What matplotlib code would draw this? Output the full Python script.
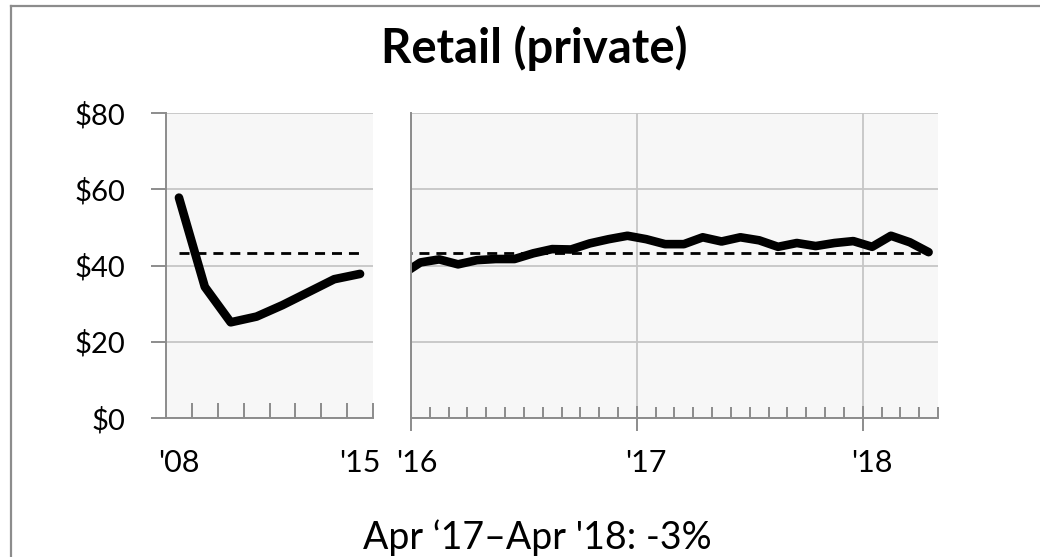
import numpy as np
import matplotlib.pyplot as plt
from matplotlib.lines import Line2D

# left panel: annual, 2008-2015
left_years = ["'08", "'09", "'10", "'11", "'12", "'13", "'14", "'15"]
left_values = [57.8, 34.4, 25.1, 26.6, 29.6, 33.0, 36.4, 37.8]

# right panel: monthly, Dec 2015 (clipped at the edge) to Apr 2018
month_names = ['Jan', 'Feb', 'Mar', 'Apr', 'May', 'Jun',
               'Jul', 'Aug', 'Sep', 'Oct', 'Nov', 'Dec']
right_months = ['Dec 2015'] + [m + ' ' + y for y in ['2016', '2017'] for m in month_names] \
    + [m + ' 2018' for m in month_names[:4]]
right_values = [37.6,
                40.8, 41.6, 40.3, 41.4, 41.7, 41.7, 43.2, 44.3, 44.2, 45.8, 46.9, 47.8,
                46.9, 45.6, 45.6, 47.4, 46.3, 47.4, 46.6, 44.9, 45.9, 45.1, 45.9, 46.4,
                44.9, 47.8, 46.1, 43.5]
right_year_labels = ["'16", "'17", "'18"]

benchmark = 43.2
yticks = [0, 20, 40, 60, 80]
ytick_labels = ['$0', '$20', '$40', '$60', '$80']

plt.rcParams['font.family'] = ['Lato', 'DejaVu Sans']

grid_col = '#c6c6c6'
spine_col = '#8c8c8c'
face_col = '#f7f7f7'

fig = plt.figure(figsize=(10.4, 5.57), dpi=100)
W, H = 1040, 557

def box(x0, x1, y_top, y_bot):
    return [x0 / W, 1 - y_bot / H, (x1 - x0) / W, (y_bot - y_top) / H]

ax1 = fig.add_axes(box(166, 373, 113, 418))
ax2 = fig.add_axes(box(411, 938, 113, 418))

for ax in (ax1, ax2):
    ax.set_facecolor(face_col)
    ax.set_ylim(0, 80)
    ax.set_yticks(yticks)
    ax.grid(axis='y', color=grid_col, linewidth=1.3)
    ax.set_axisbelow(True)
    for s in ['top', 'right']:
        ax.spines[s].set_visible(False)
    for s in ['left', 'bottom']:
        ax.spines[s].set_color(spine_col)
        ax.spines[s].set_linewidth(1.4)

# ---- left panel
xl = np.arange(len(left_values))
ax1.plot(xl, left_values, color='black', linewidth=6.2,
         solid_capstyle='round', solid_joinstyle='round')
ax1.plot(xl, [benchmark] * len(xl), color='black', linewidth=2, dashes=(3.6, 2.5))
ax1.set_xlim(-0.5, len(xl) - 0.5)
ax1.set_yticklabels(ytick_labels, fontsize=21)
ax1.tick_params(axis='y', direction='out', length=11, width=1.4, color=spine_col, pad=18)
ax1.set_xticks([0, len(xl) - 1])
ax1.set_xticklabels([left_years[0], left_years[-1]], fontsize=22)
ax1.set_xticks(np.arange(0.5, len(xl)), minor=True)
ax1.tick_params(axis='x', which='major', length=0, pad=22)
ax1.tick_params(axis='x', which='minor', direction='in', length=11, width=1.4, color=spine_col)

# ---- right panel
xr = np.arange(-1, len(right_values) - 1)
n = len(right_values) - 1
ax2.plot(xr, right_values, color='black', linewidth=6.2,
         solid_capstyle='round', solid_joinstyle='round')
ax2.plot(xr, [benchmark] * len(xr), color='black', linewidth=2, dashes=(3.6, 2.5))
ax2.set_xlim(-0.5, n - 0.5)
ax2.tick_params(axis='y', left=False, labelleft=False)
ax2.set_xticks([-0.5, 11.5, 23.5])
ax2.set_xticklabels([])
ax2.set_xticks(np.arange(-0.5, n), minor=True)
ax2.tick_params(axis='x', which='major', direction='inout', length=18, width=1.4, color=spine_col)
ax2.tick_params(axis='x', which='minor', direction='in', length=8, width=1.4, color=spine_col)
ax2.grid(axis='x', which='major', color=grid_col, linewidth=1.3)

sec = ax2.secondary_xaxis('bottom')
sec.set_xticks([-0.2, 12, 24])
sec.set_xticklabels(right_year_labels, fontsize=22)
sec.tick_params(length=0, pad=22)
sec.spines['bottom'].set_visible(False)

# titles
fig.text(534 / W, 1 - 63 / H, 'Retail (private)', ha='center', va='baseline',
         fontsize=34, fontweight='bold')
fig.text(537 / W, 1 - 549 / H, "Apr \u201817\u2013Apr '18: -3%", ha='center',
         va='baseline', fontsize=27)

# outer frame (top and left edges)
fig.add_artist(Line2D([11 / W, 1], [1 - 5.5 / H, 1 - 5.5 / H], transform=fig.transFigure,
                      color=spine_col, linewidth=1.6))
fig.add_artist(Line2D([11 / W, 11 / W], [0, 1 - 5.5 / H], transform=fig.transFigure,
                      color=spine_col, linewidth=1.6))

fig.savefig('out.png', dpi=100)
